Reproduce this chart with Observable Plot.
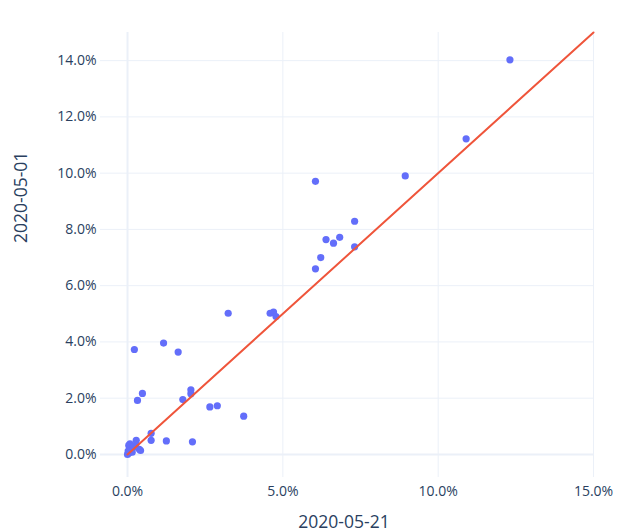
<!DOCTYPE html>
<html>
<head>
<meta charset="utf-8">
<script src="https://cdn.jsdelivr.net/npm/d3@7"></script>
<script src="https://cdn.jsdelivr.net/npm/@observablehq/plot@0.6"></script>
<style>
  html, body { margin: 0; padding: 0; background: #fff; }
  #chart svg { display: block; }
</style>
</head>
<body>
<div id="chart"></div>
<script>
// Values in percent
const x0521 = [12.31, 10.90, 8.94, 6.05, 7.31, 6.39, 6.83, 6.63, 6.22, 6.05, 7.31,
  3.24, 4.70, 4.59, 4.78, 0.22, 1.16, 1.63, 0.48, 0.32, 1.78, 2.04, 2.04, 2.65, 2.89, 3.74,
  0.76, 0.76, 1.25, 2.09, 0.28, 0.00, 0.05, 0.10, 0.04, 0.15, 0.26, 0.38, 0.42, 0.08, 0.18, 0.02];
const y0501 = [14.03, 11.22, 9.90, 9.71, 8.29, 7.64, 7.72, 7.51, 7.00, 6.60, 7.38,
  5.02, 5.06, 5.02, 4.90, 3.73, 3.96, 3.64, 2.17, 1.92, 1.95, 2.30, 2.16, 1.69, 1.73, 1.36,
  0.75, 0.50, 0.48, 0.45, 0.50, 0.00, 0.05, 0.20, 0.32, 0.08, 0.32, 0.18, 0.14, 0.38, 0.25, 0.12];
const refX = [0, 15];
const refY = [0, 15];
const xTicks = [0, 5, 10, 15];
const yTicks = [0, 2, 4, 6, 8, 10, 12, 14];
const xTitle = "2020-05-21";
const yTitle = "2020-05-01";

const pts = x0521.map((x, i) => ({x, y: y0501[i]}));
const ref = refX.map((x, i) => ({x, y: refY[i]}));

const fmt = d => d.toFixed(1) + "%";
const font = "'Open Sans', sans-serif";
const tc = "#2a3f5f";
const grid = "#EBF0F8";

const chart = Plot.plot({
  width: 617,
  height: 532,
  marginLeft: 100,
  marginRight: 24,
  marginTop: 32,
  marginBottom: 55,
  style: {fontFamily: font, fontSize: "14px", color: tc, background: "#fff"},
  x: {domain: [-0.87, 15], ticks: xTicks},
  y: {domain: [-0.82, 15], ticks: yTicks},
  marks: [
    Plot.gridX(xTicks.filter(d => d !== 0), {stroke: grid, strokeOpacity: 1, strokeWidth: 1}),
    Plot.gridY(yTicks.filter(d => d !== 0), {stroke: grid, strokeOpacity: 1, strokeWidth: 1}),
    Plot.ruleX([0], {stroke: grid, strokeWidth: 2}),
    Plot.ruleY([0], {stroke: grid, strokeWidth: 2}),
    Plot.axisX(xTicks, {tickSize: 0, tickPadding: 9, tickFormat: fmt, label: null, fontSize: 14, fill: tc}),
    Plot.axisY(yTicks, {tickSize: 0, tickPadding: 4, tickFormat: fmt, label: null, fontSize: 14, fill: tc}),
    Plot.dot(pts, {x: "x", y: "y", r: 3.6, fill: "#636efa", stroke: "none"}),
    Plot.line(ref, {x: "x", y: "y", stroke: "#EF553B", strokeWidth: 2}),
    Plot.text([xTitle], {frameAnchor: "bottom", dy: 45, dx: -3, text: d => d, fontSize: 17.5, fill: tc, lineAnchor: "middle"}),
    Plot.text([yTitle], {frameAnchor: "left", dx: -79, dy: -12, rotate: -90, text: d => d, fontSize: 17.5, fill: tc})
  ]
});
document.getElementById("chart").appendChild(chart);
</script>
</body>
</html>
